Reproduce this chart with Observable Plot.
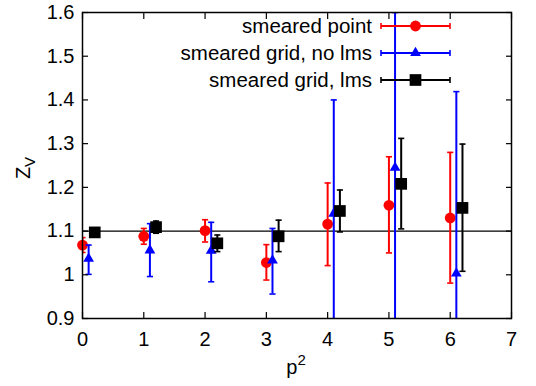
<!DOCTYPE html>
<html>
<head>
<meta charset="utf-8">
<script src="https://cdn.jsdelivr.net/npm/d3@7"></script>
<script src="https://cdn.jsdelivr.net/npm/@observablehq/plot@0.6"></script>
<style>
  html, body { margin: 0; padding: 0; background: #fff; }
  svg { display: block; }
</style>
</head>
<body>
<div id="chart"></div>
<script>
// x positions (p^2) with per-series offsets
const spX = [0, 1, 2, 3, 4, 5, 6];
const ngX = [0.1, 1.1, 2.1, 3.1, 4.1, 5.1, 6.1];
const lmX = [0.2, 1.2, 2.2, 3.2, 4.2, 5.2, 6.2];

// smeared point
const spY  = [1.068, 1.088, 1.101, 1.028, 1.116, 1.159, 1.130];
const spLo = [1.051, 1.070, 1.075, 0.988, 1.021, 1.050, 0.981];
const spHi = [1.085, 1.106, 1.126, 1.069, 1.210, 1.270, 1.280];

// smeared grid, no lms
const ngY  = [1.037, 1.056, 1.055, 1.033, 1.140, 1.245, 1.003];
const ngLo = [1.001, 0.996, 0.984, 0.956, 0.80, 0.80, 0.80];
const ngHi = [1.068, 1.117, 1.120, 1.106, 1.400, 1.600, 1.419];

// smeared grid, lms
const lmY  = [1.097, 1.109, 1.072, 1.088, 1.146, 1.208, 1.153];
const lmLo = [1.092, 1.095, 1.053, 1.053, 1.098, 1.105, 1.008];
const lmHi = [1.102, 1.123, 1.091, 1.125, 1.194, 1.312, 1.299];

const seriesNames = ["smeared point", "smeared grid, no lms", "smeared grid, lms"];
const seriesColors = ["#ff0000", "#0000ff", "#000000"];
const seriesSymbols = ["circle", "triangle", "square"];
const seriesR = [5.4, 4.0, 6.6];

const xTicks = [0, 1, 2, 3, 4, 5, 6, 7];
const yTicks = [0.9, 1.0, 1.1, 1.2, 1.3, 1.4, 1.5, 1.6];
const refLine = [1.1];

const build = (xs, ys, los, his) => xs.map((x, i) => ({x, y: ys[i], lo: los[i], hi: his[i]}));
const series = [
  build(spX, spY, spLo, spHi),
  build(ngX, ngY, ngLo, ngHi),
  build(lmX, lmY, lmLo, lmHi)
];

const capHalf = 0.05;
const marks = [
  Plot.ruleY(refLine, {stroke: "black", strokeWidth: 1.3}),
];
series.forEach((data, k) => {
  const c = seriesColors[k];
  marks.push(
    Plot.ruleX(data, {x: "x", y1: "lo", y2: "hi", stroke: c, strokeWidth: 2, clip: true}),
    Plot.link(data.filter(d => d.lo >= 0.9), {x1: d => d.x - capHalf, x2: d => d.x + capHalf, y1: "lo", y2: "lo", stroke: c, strokeWidth: 1.6, clip: true}),
    Plot.link(data.filter(d => d.hi <= 1.6), {x1: d => d.x - capHalf, x2: d => d.x + capHalf, y1: "hi", y2: "hi", stroke: c, strokeWidth: 1.6, clip: true}),
    Plot.dot(data, {x: "x", y: "y", symbol: seriesSymbols[k], r: seriesR[k], fill: c, stroke: "none"})
  );
});

const yFmt = d => String(+d.toFixed(1));
const xFmt = d => String(d);
marks.push(
  Plot.axisX({anchor: "bottom", ticks: xTicks, tickSize: -6, tickPadding: 19, tickFormat: xFmt, label: null, fontSize: 20, strokeWidth: 1.2}),
  Plot.axisX({anchor: "top", ticks: xTicks, tickSize: -6, tickFormat: () => "", label: null, strokeWidth: 1.2}),
  Plot.axisY({anchor: "left", ticks: yTicks, tickSize: -6, tickPadding: 14, tickFormat: yFmt, label: null, fontSize: 20, strokeWidth: 1.2}),
  Plot.axisY({anchor: "right", ticks: yTicks, tickSize: -6, tickFormat: () => "", label: null, strokeWidth: 1.2}),
  Plot.frame({stroke: "black", strokeWidth: 1.5})
);

const svg = Plot.plot({
  width: 536,
  height: 386,
  marginLeft: 82,
  marginRight: 25,
  marginTop: 12,
  marginBottom: 68,
  x: {domain: [0, 7]},
  y: {domain: [0.9, 1.6]},
  style: {fontFamily: "'Liberation Sans', Arial, sans-serif", fontSize: "20px", background: "white", color: "black"},
  marks
});

const s = d3.select(svg);
// axis labels
const xl = s.append("text")
  .attr("x", 296).attr("y", 374)
  .attr("text-anchor", "middle")
  .attr("font-size", 20).attr("fill", "black");
xl.append("tspan").text("p");
xl.append("tspan").attr("dy", -9).attr("font-size", 15).text("2");

const yl = s.append("text")
  .attr("transform", "translate(30,168) rotate(-90)")
  .attr("text-anchor", "middle")
  .attr("font-size", 20).attr("fill", "black");
yl.append("tspan").text("Z");
yl.append("tspan").attr("dy", 5).attr("font-size", 15).text("V");

// legend
const lg = s.append("g");
seriesNames.forEach((name, i) => {
  const cy = 26 + 27 * i;
  const c = seriesColors[i];
  lg.append("text").attr("x", 372).attr("y", cy).attr("dy", "0.35em")
    .attr("text-anchor", "end").attr("font-size", 20.5).attr("fill", "black").text(name);
  lg.append("line").attr("x1", 381).attr("x2", 450).attr("y1", cy).attr("y2", cy)
    .attr("stroke", c).attr("stroke-width", 2);
  [381, 450].forEach(x => lg.append("line").attr("x1", x).attr("x2", x)
    .attr("y1", cy - 3).attr("y2", cy + 3).attr("stroke", c).attr("stroke-width", 1.6));
  const symType = {circle: d3.symbolCircle, triangle: d3.symbolTriangle, square: d3.symbolSquare}[seriesSymbols[i]];
  lg.append("path")
    .attr("d", d3.symbol(symType, Math.PI * seriesR[i] * seriesR[i])())
    .attr("transform", `translate(415.5,${cy})`)
    .attr("fill", c);
});

document.getElementById("chart").appendChild(svg);
</script>
</body>
</html>
